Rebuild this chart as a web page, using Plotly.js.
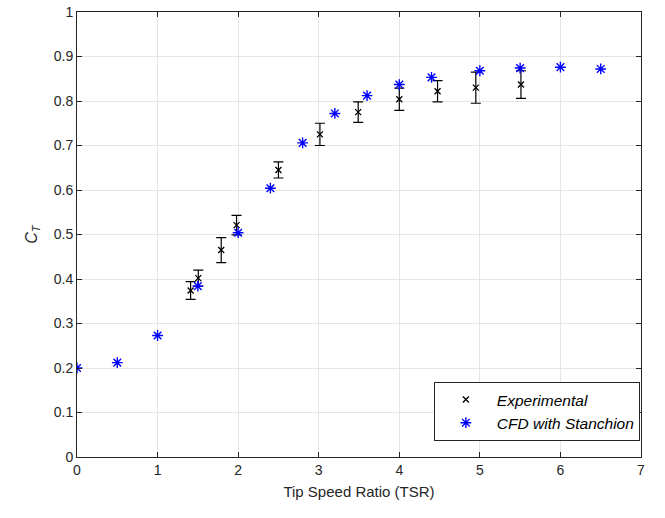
<!DOCTYPE html>
<html><head><meta charset="utf-8">
<script src="https://cdn.plot.ly/plotly-3.0.1.min.js"></script>
<style>html,body{margin:0;padding:0;background:#fff}#plot{width:665px;height:518px}</style>
</head><body><div id="plot"></div>
<script>
const expTSR = [1.41, 1.505, 1.79, 1.98, 2.5, 3.015, 3.49, 4.0, 4.475, 4.95, 5.51];
const expCT  = [0.374, 0.402, 0.465, 0.521, 0.645, 0.725, 0.775, 0.804, 0.822, 0.830, 0.837];
const expErr = [0.020, 0.018, 0.028, 0.022, 0.018, 0.025, 0.023, 0.025, 0.024, 0.035, 0.031];
const cfdTSR = [0, 0.5, 1.0, 1.5, 2.0, 2.4, 2.8, 3.2, 3.6, 4.0, 4.4, 5.0, 5.5, 6.0, 6.5];
const cfdCT  = [0.200, 0.212, 0.273, 0.384, 0.504, 0.604, 0.706, 0.772, 0.812, 0.837, 0.853, 0.868, 0.874, 0.876, 0.872];
const xTicks = [0,1,2,3,4,5,6,7];
const yTicks = [0,0.1,0.2,0.3,0.4,0.5,0.6,0.7,0.8,0.9,1];

const fam = 'Liberation Sans, Arial, sans-serif';
const traces = [
  {x: expTSR, y: expCT, mode: 'markers', name: 'Experimental', type: 'scatter',
   marker: {symbol: 'x-thin-open', size: 6, color: 'black', line: {color: 'black', width: 1.3}},
   error_y: {type: 'data', array: expErr, visible: true, color: 'black', thickness: 1.2, width: 5}},
  {x: cfdTSR, y: cfdCT, mode: 'markers', name: 'CFD with Stanchion', type: 'scatter',
   marker: {symbol: 'asterisk-open', size: 9, color: '#0000ff', line: {color: '#0000ff', width: 1.4}}}
];
const axisCommon = {
  showline: true, linecolor: '#262626', linewidth: 1, mirror: 'ticks',
  ticks: 'inside', ticklen: 5, tickcolor: '#262626', tickwidth: 1,
  showgrid: true, gridcolor: '#e5e5e5', gridwidth: 1, zeroline: false,
  tickfont: {family: fam, size: 14, color: '#262626'}
};
const layout = {
  width: 665, height: 518,
  margin: {l: 77, r: 24, t: 12, b: 61},
  paper_bgcolor: '#fff', plot_bgcolor: '#fff',
  showlegend: true,
  xaxis: Object.assign({}, axisCommon, {range: [0, 7], tickvals: xTicks, ticktext: xTicks.map(String),
    title: {text: 'Tip Speed Ratio (TSR)', font: {family: fam, size: 15, color: '#262626'}, standoff: 9}}),
  yaxis: Object.assign({}, axisCommon, {range: [0, 1], tickvals: yTicks, ticktext: yTicks.map(String),
    title: {text: '<i>C<sub>T</sub></i>', font: {family: fam, size: 16, color: '#262626'}, standoff: 12}}),
  legend: {x: 0.998, xanchor: 'right', y: 0.036, yanchor: 'bottom',
    bgcolor: '#fff', bordercolor: '#262626', borderwidth: 1,
    font: {family: fam, size: 15.5, color: '#000', style: 'italic'}, itemwidth: 52, tracegroupgap: 0}
};
Plotly.newPlot('plot', traces, layout, {displayModeBar: false, staticPlot: true});
</script></body></html>
